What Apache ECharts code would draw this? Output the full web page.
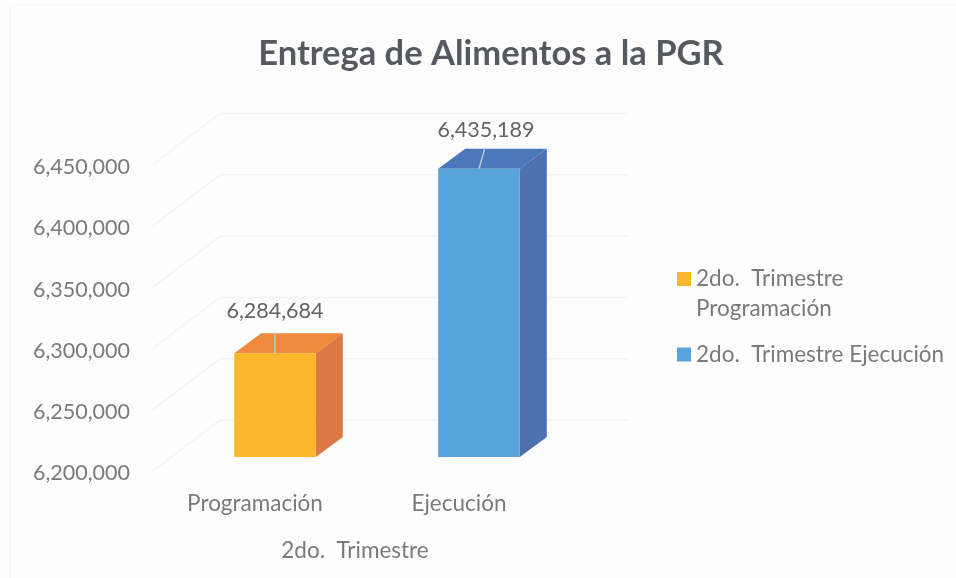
<!DOCTYPE html>
<html>
<head>
<meta charset="utf-8">
<script src="https://cdn.jsdelivr.net/npm/echarts@6/dist/echarts.min.js"></script>
<style>
  html, body { margin: 0; background: #fdfdfd; }
  #main { width: 956px; height: 578px; }
</style>
</head>
<body>
<div id="main"></div>
<script>
const categories = ['Programación', 'Ejecución']
const tickValues = [6200000, 6250000, 6300000, 6350000, 6400000, 6450000]
const programacion = [6284684]
const ejecucion = [6435189]
const yMin = 6200000

const nameProg = '2do.  Trimestre\nProgramación'
const nameEjec = '2do.  Trimestre Ejecución'
const font = 'Lato, "Open Sans", sans-serif'

var myChart = echarts.init(document.getElementById('main'))

// fake 3d: every plane is shifted up and right from the axis plane
const wall = { dx: 67, dy: -51 }
const barFront = { dx: 20, dy: -14 }
const barDepth = { dx: 27, dy: -20 }

function renderWall(params, api) {
  const p = api.coord([0, api.value(1)])
  const box = params.coordSys
  const x0 = box.x
  const x1 = box.x + box.width
  return {
    type: 'polyline',
    shape: { points: [[x0, p[1]], [x0 + wall.dx, p[1] + wall.dy], [x1 + wall.dx, p[1] + wall.dy]] },
    style: { fill: null, stroke: '#f3f3f3', lineWidth: 1.5 }
  }
}

function barRenderer(colors, labelDx, labelDy, leaderDx) {
  return function (params, api) {
    const idx = api.value(0)
    const val = api.value(1)
    const top = api.coord([idx, val])
    const bottom = api.coord([idx, yMin])
    const w = api.size([1, 0])[0] * 0.4
    const l = top[0] - w / 2 + barFront.dx
    const r = l + w
    const t = top[1] + barFront.dy
    const b = bottom[1] + barFront.dy
    const dx = barDepth.dx
    const dy = barDepth.dy
    const cx = (l + r) / 2
    return {
      type: 'group',
      children: [
        { type: 'polygon', shape: { points: [[r, t], [r + dx, t + dy], [r + dx, b + dy], [r, b]] }, style: { fill: colors.side } },
        { type: 'polygon', shape: { points: [[l, t], [l + dx, t + dy], [r + dx, t + dy], [r, t]] }, style: { fill: colors.top } },
        { type: 'rect', shape: { x: l, y: t, width: w, height: b - t }, style: { fill: colors.front } },
        { type: 'line', shape: { x1: cx, y1: t, x2: cx + leaderDx, y2: t + dy - 1 }, style: { stroke: '#bccbd6', lineWidth: 1.5 } },
        {
          type: 'text',
          style: {
            x: cx + labelDx,
            y: t + labelDy,
            text: val.toLocaleString('en-US'),
            fill: '#636363',
            font: '21.5px ' + font,
            align: 'center',
            verticalAlign: 'middle'
          }
        }
      ]
    }
  }
}

myChart.setOption({
  backgroundColor: '#fdfdfd',
  animation: false,
  title: {
    text: 'Entrega de Alimentos a la PGR',
    left: 486,
    top: 31,
    textAlign: 'center',
    textStyle: { fontFamily: font, fontSize: 34.5, fontWeight: 'bold', color: '#565a60' }
  },
  grid: { left: 153, top: 164.5, width: 408, height: 306.5 },
  graphic: [
    { type: 'line', shape: { x1: 10, y1: 5, x2: 10, y2: 578 }, style: { stroke: '#f5f5f5', lineWidth: 1.5 } },
    { type: 'line', shape: { x1: 10, y1: 5, x2: 956, y2: 5 }, style: { stroke: '#f7f7f7', lineWidth: 1 } }
  ],
  legend: [
    {
      data: [nameProg],
      left: 672,
      top: 259,
      itemWidth: 14,
      itemHeight: 44,
      itemGap: 0,
      icon: 'path://M0 0H14V14H0ZM0 44H0',
      textStyle: { fontFamily: font, fontSize: 22.5, color: '#7a7a7a', lineHeight: 30 }
    },
    {
      data: [nameEjec],
      left: 672,
      top: 338,
      itemWidth: 14,
      itemHeight: 14,
      icon: 'rect',
      textStyle: { fontFamily: font, fontSize: 22.5, color: '#7a7a7a' }
    }
  ],
  xAxis: {
    type: 'category',
    data: categories,
    name: '2do.  Trimestre',
    nameLocation: 'middle',
    nameGap: 68,
    nameTextStyle: { fontFamily: font, fontSize: 22.5, color: '#7a7a7a', padding: [0, 4, 0, 0] },
    axisLine: { show: false },
    axisTick: { show: false },
    axisLabel: { fontFamily: font, fontSize: 22.5, color: '#7a7a7a', margin: 21 }
  },
  yAxis: {
    type: 'value',
    min: yMin,
    max: 6450000,
    interval: 50000,
    axisLine: { show: false },
    axisTick: { show: false },
    splitLine: { show: false },
    axisLabel: {
      fontFamily: font,
      fontSize: 21.5,
      color: '#7a7a7a',
      margin: 23,
      verticalAlign: 'top',
      lineHeight: 5,
      formatter: v => v.toLocaleString('en-US')
    }
  },
  series: [
    {
      type: 'custom',
      name: 'walls',
      z: 1,
      silent: true,
      renderItem: renderWall,
      data: tickValues.map(v => [0, v])
    },
    {
      type: 'custom',
      name: nameProg,
      z: 2,
      itemStyle: { color: '#fbb62c' },
      renderItem: barRenderer({ front: '#fbb62c', top: '#ef8a3d', side: '#dc7a47' }, 0, -42, 0),
      data: programacion.map(v => [0, v])
    },
    {
      type: 'custom',
      name: nameEjec,
      z: 2,
      itemStyle: { color: '#58a3da' },
      renderItem: barRenderer({ front: '#58a3da', top: '#4b78bb', side: '#4f70b0' }, 7, -39, 6),
      data: ejecucion.map(v => [1, v])
    }
  ]
})
</script>
</body>
</html>
